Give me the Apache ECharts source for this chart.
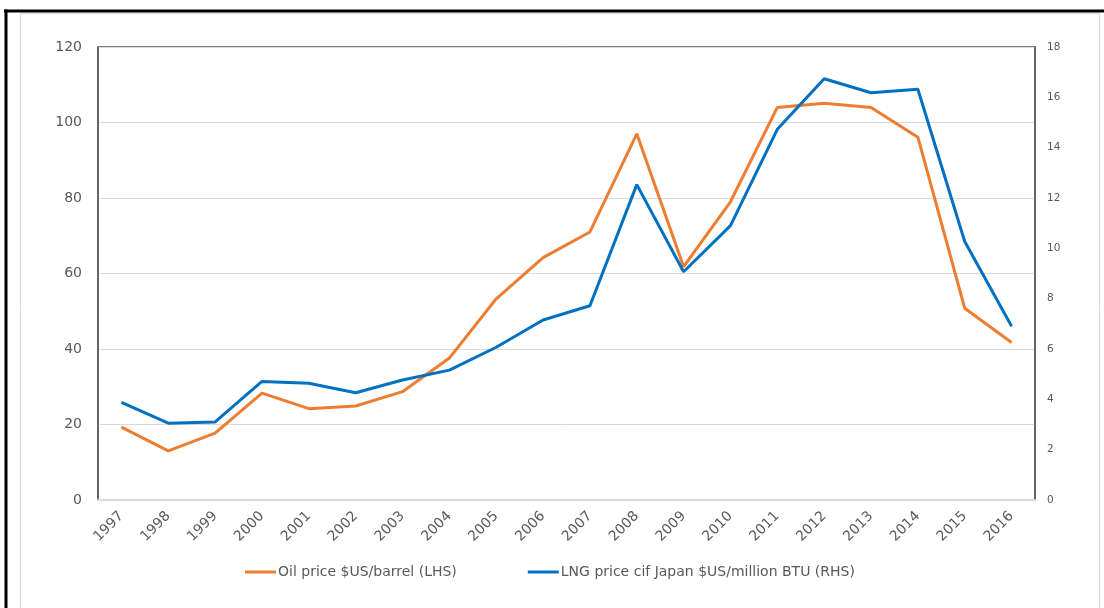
<!DOCTYPE html>
<html>
<head>
<meta charset="utf-8">
<script src="https://cdn.jsdelivr.net/npm/echarts@6/dist/echarts.min.js"></script>
<style>
  html, body { margin: 0; padding: 0; background: #fff; }
  #chart { width: 1104px; height: 608px; }
</style>
</head>
<body>
<div id="chart"></div>
<script>
// years on the x axis
var years = ['1997', '1998', '1999', '2000', '2001', '2002', '2003', '2004', '2005', '2006',
             '2007', '2008', '2009', '2010', '2011', '2012', '2013', '2014', '2015', '2016'];

// oil price, $US/barrel (left axis)
var oilPrice = [19.3, 13.0, 17.7, 28.3, 24.2, 24.9, 28.7, 37.6, 53.3, 64.2,
                71.0, 97.0, 61.8, 79.0, 104.0, 105.1, 104.0, 96.1, 50.8, 41.7];

// LNG price cif Japan, $US/million BTU (right axis)
var lngPrice = [3.88, 3.05, 3.10, 4.71, 4.64, 4.26, 4.77, 5.16, 6.07, 7.15,
                7.72, 12.53, 9.07, 10.90, 14.73, 16.74, 16.18, 16.32, 10.27, 6.90];

var seriesNames = ['Oil price $US/barrel (LHS)', 'LNG price cif Japan $US/million BTU (RHS)'];

var textColor = '#595959';
var font = 'DejaVu Sans';

var option = {
    animation: false,
    backgroundColor: '#fff',
    textStyle: { fontFamily: font, color: textColor },
    graphic: [
        // outer frame of the picture: black top/left edge, light grey inner box
        { type: 'rect', z: 100, silent: true, shape: { x: 20.5, y: 13.5, width: 1079, height: 600 },
          style: { fill: null, stroke: '#d9d9d9', lineWidth: 1 } },
        { type: 'rect', z: 101, silent: true, shape: { x: 4, y: 9.5, width: 1100, height: 3 },
          style: { fill: '#000' } },
        { type: 'rect', z: 101, silent: true, shape: { x: 4.5, y: 9.5, width: 3, height: 600 },
          style: { fill: '#000' } }
    ],
    grid: {
        left: 98, right: 69, top: 47, bottom: 108,
        show: true, borderColor: '#595959', borderWidth: 1.5
    },
    legend: {
        left: 245, top: 565, padding: 0,
        itemWidth: 31, itemHeight: 3, itemGap: 71,
        icon: 'rect',
        textStyle: { fontFamily: font, fontSize: 14, color: textColor, padding: [0, 0, 0, -3] },
        data: seriesNames
    },
    xAxis: {
        type: 'category',
        data: years,
        boundaryGap: true,
        axisLine: { lineStyle: { color: '#d9d9d9', width: 2 } },
        axisTick: { show: false },
        axisLabel: { rotate: 45, fontSize: 14, color: textColor, fontFamily: font, margin: 14 }
    },
    yAxis: [
        {
            type: 'value', min: 0, max: 120, interval: 20,
            axisLine: { show: true, lineStyle: { color: '#595959', width: 1.5 } },
            axisTick: { show: false },
            axisLabel: { fontSize: 14, color: textColor, fontFamily: font, margin: 16 },
            splitLine: { lineStyle: { color: '#d9d9d9', width: 1 } }
        },
        {
            type: 'value', min: 0, max: 18, interval: 2,
            axisLine: { show: true, lineStyle: { color: '#595959', width: 1.5 } },
            axisTick: { show: false },
            axisLabel: { fontSize: 10.5, color: textColor, fontFamily: font, margin: 12 },
            splitLine: { show: false }
        }
    ],
    series: [
        {
            name: seriesNames[0],
            type: 'line',
            yAxisIndex: 0,
            data: oilPrice,
            symbol: 'none',
            color: '#ED7D31',
            lineStyle: { width: 3, color: '#ED7D31' }
        },
        {
            name: seriesNames[1],
            type: 'line',
            yAxisIndex: 1,
            data: lngPrice,
            symbol: 'none',
            color: '#0070C0',
            lineStyle: { width: 3, color: '#0070C0' }
        }
    ]
};

var myChart = echarts.init(document.getElementById('chart'));
myChart.setOption(option);
</script>
</body>
</html>
